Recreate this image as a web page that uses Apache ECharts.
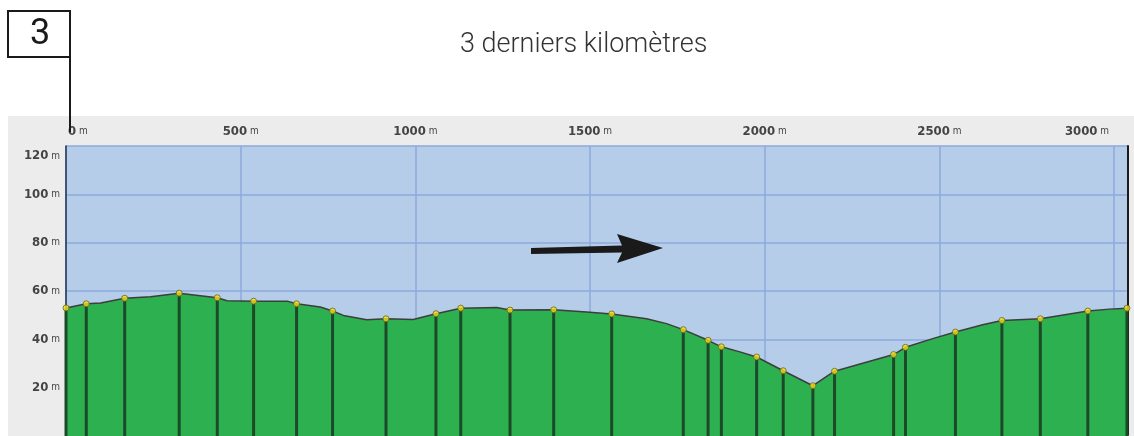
<!DOCTYPE html>
<html>
<head>
  <meta charset="UTF-8">
  <title>3 derniers kilomètres</title>
  <script src="https://cdn.jsdelivr.net/npm/echarts@6/dist/echarts.min.js"></script>
  <style>
    html, body { margin: 0; padding: 0; background: #fff; }
    #main { width: 1134px; height: 436px; }
  </style>
</head>
<body>
<div id="main"></div>
<script type="text/javascript">
  // profil complet (distance en m, altitude en m)
  var profilDist = [0, 58, 99, 168, 242, 324, 433, 461, 537, 633, 660, 728, 763, 794, 861, 916, 994, 1059, 1130, 1233, 1271, 1396, 1490, 1562, 1662, 1719, 1767, 1838, 1876, 1929, 1977, 2053, 2138, 2200, 2369, 2403, 2481, 2546, 2624, 2679, 2789, 2925, 2987, 3037];
  var profilAlt  = [53, 54.7, 55, 57, 57.6, 59.1, 57.2, 56, 55.8, 55.8, 54.7, 53.4, 51.7, 49.9, 48.1, 48.5, 48.2, 50.6, 52.9, 53.2, 52.1, 52.2, 51.3, 50.5, 48.5, 46.5, 44, 39.6, 36.9, 34.8, 32.7, 27, 20.8, 26.8, 33.7, 36.7, 40.3, 43, 46, 47.8, 48.5, 51.7, 52.5, 52.9];

  // points de passage (marqueurs jaunes)
  var pointsDist = [0, 58, 168, 324, 433, 537, 660, 763, 916, 1059, 1130, 1271, 1396, 1562, 1767, 1838, 1876, 1977, 2053, 2138, 2200, 2369, 2403, 2546, 2679, 2789, 2925, 3037];
  var pointsAlt  = [53, 54.7, 57, 59.1, 57.2, 55.8, 54.7, 51.7, 48.5, 50.6, 52.9, 52.1, 52.2, 50.5, 44, 39.6, 36.9, 32.7, 27, 20.8, 26.8, 33.7, 36.7, 43, 47.8, 48.5, 51.7, 52.9];

  var xTicks = [0, 500, 1000, 1500, 2000, 2500, 3000];
  var yTicks = [20, 40, 60, 80, 100, 120];

  var chart = echarts.init(document.getElementById('main'));

  var profil = profilDist.map(function (d, i) { return [d, profilAlt[i]]; });
  var points = pointsDist.map(function (d, i) { return [d, pointsAlt[i]]; });

  var labelFont = 'DejaVu Sans Condensed, DejaVu Sans, sans-serif';

  chart.setOption({
    animation: false,
    backgroundColor: '#fff',
    title: {
      text: '3 derniers kilomètres',
      left: 455,
      top: 27,
      textStyle: { fontFamily: 'Roboto, sans-serif', fontWeight: 300, fontSize: 27, color: '#333' }
    },
    grid: {
      left: 66, right: 6, top: 146, bottom: -2,
      show: true, backgroundColor: '#b6cdea', borderWidth: 0
    },
    xAxis: {
      type: 'value', position: 'top',
      min: 0, max: 3040, interval: 500,
      axisLine: { show: true, lineStyle: { color: '#9a9a9a', width: 2 } },
      axisTick: { show: false },
      splitLine: { show: true, lineStyle: { color: '#8ea9dc', width: 1.5 } },
      axisLabel: {
        margin: 8,
        showMaxLabel: false,
        formatter: function (v) {
          if (xTicks.indexOf(v) < 0) return '';
          if (v === 0) return '{z|' + v + '}{u| m}';
          if (v === 3000) return '{e|' + v + '}{ue| m}';
          return '{n|' + v + '}{u| m}';
        },
        rich: {
          n: { fontFamily: labelFont, fontSize: 13, color: '#444', fontWeight: 'bold' },
          z: { fontFamily: labelFont, fontSize: 13, color: '#444', fontWeight: 'bold', padding: [0, 0, 0, 24] },
          e: { fontFamily: labelFont, fontSize: 13, color: '#444', fontWeight: 'bold' },
          u: { fontFamily: labelFont, fontSize: 10, color: '#444' },
          ue: { fontFamily: labelFont, fontSize: 10, color: '#444', padding: [0, 54, 0, 0] }
        }
      }
    },
    yAxis: [{
      type: 'value',
      min: 0, max: 120, interval: 20,
      axisLine: { show: true, lineStyle: { color: '#223355', width: 1.5 } },
      axisTick: { show: false },
      splitLine: { show: true, lineStyle: { color: '#8ea9dc', width: 1.5 } },
      axisLabel: {
        margin: 6,
        formatter: function (v) {
          if (yTicks.indexOf(v) < 0) return '';
          if (v === 120) return '{t|' + v + '}{ut| m}';
          return '{n|' + v + '}{u| m}';
        },
        rich: {
          n: { fontFamily: labelFont, fontSize: 13, color: '#444', fontWeight: 'bold' },
          t: { fontFamily: labelFont, fontSize: 13, color: '#444', fontWeight: 'bold', padding: [20, 0, 0, 0] },
          u: { fontFamily: labelFont, fontSize: 10, color: '#444' },
          ut: { fontFamily: labelFont, fontSize: 10, color: '#444', padding: [20, 0, 0, 0] }
        }
      }
    }, {
      type: 'value', position: 'right',
      min: 0, max: 120,
      axisLine: { show: true, lineStyle: { color: '#1a1a1a', width: 2 } },
      axisTick: { show: false }, axisLabel: { show: false }, splitLine: { show: false }
    }],
    series: [
      {
        name: 'profil', type: 'line', data: profil,
        symbol: 'none', z: 2,
        lineStyle: { color: '#3d3d3d', width: 1.5 },
        areaStyle: { color: '#2db150', opacity: 1 }
      },
      {
        name: 'verticales', type: 'bar', data: points,
        barWidth: 3, z: 3,
        itemStyle: { color: '#1c4a28' }
      },
      {
        name: 'points', type: 'scatter', data: points,
        symbol: 'circle', symbolSize: 6, z: 4,
        itemStyle: { color: '#f2e41c', borderColor: '#6a6420', borderWidth: 1 }
      }
    ],
    graphic: [
      // bande grise derrière les axes
      { type: 'rect', z: -10, silent: true, shape: { x: 8, y: 116, width: 1126, height: 320 }, style: { fill: '#ececec' } },
      // encadré "3"
      { type: 'rect', z: 10, shape: { x: 8, y: 11, width: 62, height: 46 }, style: { fill: '#fff', stroke: '#1a1a1a', lineWidth: 2 } },
      { type: 'text', z: 11, x: 40, y: 35, style: { text: '3', fill: '#1a1a1a', font: '36px Roboto, sans-serif', align: 'center', verticalAlign: 'middle' } },
      { type: 'line', z: 10, shape: { x1: 70, y1: 57, x2: 70, y2: 132 }, style: { stroke: '#1a1a1a', lineWidth: 2 } },
      // flèche
      { type: 'polygon', z: 10, shape: { points: [[531, 248], [622, 245.5], [617, 234], [663, 248], [617, 263], [622, 252.5], [531, 254]] }, style: { fill: '#1a1a1a' } }
    ]
  });
</script>
</body>
</html>
